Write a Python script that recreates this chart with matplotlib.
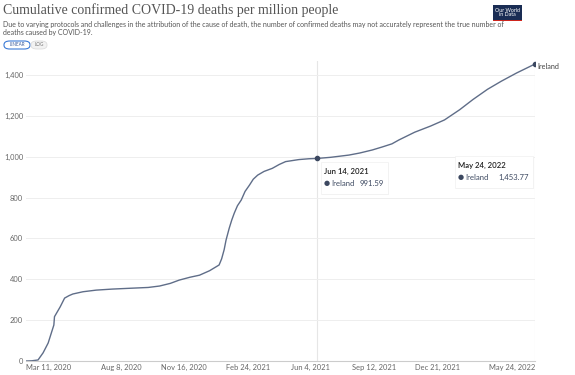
import pandas as pd
import matplotlib
matplotlib.use("Agg")
from matplotlib import pyplot as plt
from matplotlib.patches import FancyBboxPatch, Rectangle

# Ireland, cumulative confirmed deaths per million
dates = ["2020-03-11", "2020-03-20", "2020-03-30", "2020-04-07", "2020-04-15", "2020-04-20",
         "2020-04-24", "2020-04-25", "2020-05-04", "2020-05-11", "2020-05-18", "2020-05-24",
         "2020-06-09", "2020-06-30", "2020-07-25", "2020-08-22", "2020-09-20", "2020-10-08",
         "2020-10-25", "2020-11-08", "2020-11-25", "2020-12-10", "2020-12-26", "2021-01-10",
         "2021-01-14", "2021-01-18", "2021-01-21", "2021-01-26", "2021-01-30", "2021-02-03",
         "2021-02-08", "2021-02-14", "2021-02-20", "2021-02-27", "2021-03-05", "2021-03-12",
         "2021-03-22", "2021-04-04", "2021-04-15", "2021-04-25", "2021-05-16", "2021-06-01",
         "2021-06-14", "2021-07-05", "2021-08-03", "2021-08-20", "2021-09-09", "2021-09-25",
         "2021-10-10", "2021-10-21", "2021-11-15", "2021-12-10", "2022-01-01", "2022-01-25",
         "2022-02-15", "2022-03-10", "2022-04-01", "2022-04-25", "2022-05-24"]
values = [0, 1, 5, 40, 88, 137,
          176, 217, 265, 308, 320, 328,
          339, 347, 352, 356, 360, 367,
          380, 396, 410, 420, 442, 470,
          500, 545, 592, 650, 690, 724,
          760, 788, 830, 861, 890, 910,
          928, 943, 962, 976, 986, 990,
          991.59, 997, 1008, 1018, 1033, 1048,
          1063, 1082, 1120, 1150, 1180, 1230,
          1280, 1330, 1370, 1410, 1453.77]

tick_dates = ["2020-03-11", "2020-08-08", "2020-11-16", "2021-02-24", "2021-06-04",
              "2021-09-12", "2021-12-21", "2022-05-24"]
tick_labels = ["Mar 11, 2020", "Aug 8, 2020", "Nov 16, 2020", "Feb 24, 2021", "Jun 4, 2021",
               "Sep 12, 2021", "Dec 21, 2021", "May 24, 2022"]
yticks = [0, 200, 400, 600, 800, 1000, 1200, 1400]

hover = [("2021-06-14", 991.59, "Jun 14, 2021", "991.59"),
         ("2022-05-24", 1453.77, "May 24, 2022", "1,453.77")]

d = pd.to_datetime(dates)
line_col = "#5f6d88"
txt_col = "#666666"
FONT = ["Lato", "DejaVu Sans"]

W, H = 575, 375
fig = plt.figure(figsize=(W / 100, H / 100), dpi=100)

def fx(x):
    return x / W

def fy(y):
    return 1 - y / H

ax = fig.add_axes([fx(26), fy(361), fx(535) - fx(26), fy(60.7) - fy(361)])
ax.plot(d, values, color=line_col, lw=1.0, solid_joinstyle="round")
ax.set_xlim(pd.Timestamp("2020-03-11"), pd.Timestamp("2022-05-24"))
ax.set_ylim(0, 1470)

for s in ["top", "right", "left"]:
    ax.spines[s].set_visible(False)
ax.spines["bottom"].set_color("#cccccc")
ax.spines["bottom"].set_linewidth(0.8)

ax.set_yticks(yticks)
ax.set_yticklabels([f"{v:,}" for v in yticks], fontsize=5.4, color=txt_col, family=FONT)
ax.tick_params(axis="y", length=0, pad=2)
ax.grid(axis="y", color="#eeeeee", lw=0.7)
ax.set_axisbelow(True)

ax.set_xticks(pd.to_datetime(tick_dates))
xl = ax.set_xticklabels(tick_labels, fontsize=5.4, color=txt_col, family=FONT)
xl[0].set_ha("left")
xl[-1].set_ha("right")
ax.tick_params(axis="x", length=0, pad=2)

# hover markers and tooltips
box_pos = [(321, 162), (455, 156)]
box_w = [67, 78]
for (hd, hv, hlab, hval), (bx, by), bw in zip(hover, box_pos, box_w):
    t = pd.Timestamp(hd)
    ax.axvline(t, color="#e6e6e6", lw=0.8, zorder=0)
    ax.plot([t], [hv], "o", color="#3c4860", ms=3, zorder=5)
    bh = 32
    fig.patches.append(FancyBboxPatch((fx(bx + 1), fy(by + bh + 1)), fx(bw), bh / H,
                                      boxstyle="square,pad=0", transform=fig.transFigure,
                                      facecolor="#eeeeee", edgecolor="none", alpha=0.6))
    fig.patches.append(FancyBboxPatch((fx(bx), fy(by + bh)), fx(bw), bh / H,
                                      boxstyle="square,pad=0", transform=fig.transFigure,
                                      facecolor="white", edgecolor="#f0f0f0", lw=0.5))
    fig.text(fx(bx + 3), fy(by + 9), hlab, fontsize=5.6, color="#222222", family=FONT,
             va="center", fontweight="semibold")
    fig.text(fx(bx + 3), fy(by + 21), "\u25cf", fontsize=5, color="#3c4860",
             family=["DejaVu Sans"], va="center")
    fig.text(fx(bx + 10), fy(by + 21), "Ireland", fontsize=5.6, color="#3c4860",
             family=FONT, va="center")
    fig.text(fx(bx + bw - 4), fy(by + 21), hval, fontsize=5.6, color="#3c4860",
             family=FONT, va="center", ha="right")

ax.annotate("Ireland", (pd.Timestamp("2022-05-24"), 1453.77), xytext=(1.5, -1.5),
            textcoords="offset points", fontsize=5.2, color="#444444", family=FONT,
            va="center", ha="left", annotation_clip=False)

# header
fig.text(fx(3), fy(10), "Cumulative confirmed COVID-19 deaths per million people",
         fontsize=10.0, color="#555555", family=["Liberation Serif", "DejaVu Serif"],
         va="center")
fig.text(fx(3), fy(24), "Due to varying protocols and challenges in the attribution of the cause of death, "
         "the number of confirmed deaths may not accurately represent the true number of",
         fontsize=5.0, color="#555555", family=FONT, va="center")
fig.text(fx(3), fy(32), "deaths caused by COVID-19.", fontsize=5.0, color="#555555",
         family=FONT, va="center")

# linear / log toggle
fig.patches.append(FancyBboxPatch((fx(4), fy(49)), fx(26), 8 / H,
                                  boxstyle="round,pad=0,rounding_size=0.01",
                                  transform=fig.transFigure, facecolor="white",
                                  edgecolor="#3b7ad6", lw=0.8))
fig.patches.append(FancyBboxPatch((fx(31), fy(49)), fx(16), 8 / H,
                                  boxstyle="round,pad=0,rounding_size=0.01",
                                  transform=fig.transFigure, facecolor="#f2f2f2",
                                  edgecolor="#dddddd", lw=0.6))
fig.text(fx(17), fy(45), "LINEAR", fontsize=3.3, color="#3b5b9a", family=FONT,
         ha="center", va="center")
fig.text(fx(39), fy(45), "LOG", fontsize=3.3, color="#777777", family=FONT,
         ha="center", va="center")

# logo
fig.patches.append(Rectangle((fx(493), fy(20)), fx(29), 15 / H, transform=fig.transFigure,
                             facecolor="#1a2d54", edgecolor="none"))
fig.patches.append(Rectangle((fx(493), fy(21)), fx(29), 1.4 / H, transform=fig.transFigure,
                             facecolor="#ce261e", edgecolor="none"))
fig.text(fx(507.5), fy(12.5), "Our World\nin Data", fontsize=3.8, color="white",
         family=FONT, ha="center", va="center", linespacing=1.0)

fig.savefig("out.png", dpi=100, facecolor="white")
